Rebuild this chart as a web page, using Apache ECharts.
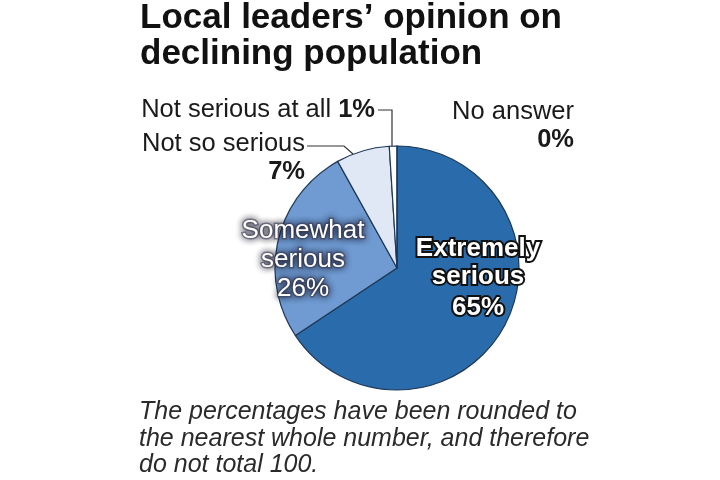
<!DOCTYPE html>
<html>
<head>
<meta charset="utf-8">
<script src="https://cdn.jsdelivr.net/npm/echarts@6/dist/echarts.min.js"></script>
<style>
  html, body { margin: 0; padding: 0; background: #fff; }
  #chart { width: 720px; height: 480px; }
</style>
</head>
<body>
<div id="chart"></div>
<script>
// data
const categories = ['Extremely serious', 'Somewhat serious', 'Not so serious', 'Not serious at all', 'No answer']
const values = [65, 26, 7, 1, 0]
const titleLines = ['Local leaders’ opinion on', 'declining population']
const noteLines = [
  'The percentages have been rounded to',
  'the nearest whole number, and therefore',
  'do not total 100.'
]

const FONT = "'Liberation Sans', Arial, sans-serif"
const sliceColors = ['#2a6cab', '#6f9bd2', '#dfe8f4', '#ffffff', '#ffffff']

// where each label sits (style only)
const labelPos = [
  { x: 478, y: 280, align: 'center', verticalAlign: 'middle' },
  { x: 303, y: 260, align: 'center', verticalAlign: 'middle' },
  { x: 305, y: 130, align: 'right', verticalAlign: 'top', line: [[307, 146], [344, 146], [353, 154]] },
  { x: 375, y: 110, align: 'right', verticalAlign: 'middle', line: [[378, 110], [392, 110], [392, 147]] },
  { x: 574, y: 98, align: 'right', verticalAlign: 'top' }
]

const outsideRich = {
  n: { fontFamily: FONT, fontSize: 25.5, color: '#1a1a1a', lineHeight: 28 },
  b: { fontFamily: FONT, fontSize: 25.5, fontWeight: 'bold', color: '#1a1a1a', lineHeight: 28 }
}

function labelFor(i) {
  const name = categories[i]
  const pct = values[i] + '%'
  if (i === 0) {
    const w = { fontFamily: FONT, fontSize: 26, fontWeight: 'bold', color: '#fff', textBorderColor: '#111', textBorderWidth: 4 }
    return {
      position: 'inside',
      formatter: name.split(' ').map(s => '{w|' + s + '}').join('\n') + '\n{p|' + pct + '}',
      rich: { w: { ...w, lineHeight: 28 }, p: { ...w, lineHeight: 34 } }
    }
  }
  if (i === 1) {
    const g = {
      fontFamily: FONT, fontSize: 26, color: '#fff', lineHeight: 29,
      textBorderColor: 'rgba(70,70,95,0.55)', textBorderWidth: 3,
      textShadowColor: 'rgba(20,20,40,0.9)', textShadowBlur: 7
    }
    return {
      position: 'inside',
      formatter: name.split(' ').map(s => '{g|' + s + '}').join('\n') + '\n{g|' + pct + '}',
      rich: { g: g }
    }
  }
  if (i === 3) {
    return { position: 'outside', formatter: '{n|' + name + ' }{b|' + pct + '}', rich: outsideRich }
  }
  return { position: 'outside', formatter: '{n|' + name + '}\n{b|' + pct + '}', rich: outsideRich }
}

const pieData = categories.map((name, i) => ({
  name: name,
  value: values[i],
  itemStyle: { color: sliceColors[i] },
  label: labelFor(i),
  labelLine: { show: !!labelPos[i].line }
}))

const chart = echarts.init(document.getElementById('chart'))
chart.setOption({
  animation: false,
  title: [
    {
      text: titleLines.join('\n'),
      left: 140,
      top: 0,
      padding: 0,
      textStyle: { fontFamily: FONT, fontSize: 35, fontWeight: 'bold', color: '#111', lineHeight: 36 }
    },
    {
      text: noteLines.join('\n'),
      left: 139,
      top: 399,
      padding: 0,
      textStyle: { fontFamily: FONT, fontSize: 25, fontStyle: 'italic', fontWeight: 'normal', color: '#2a2a2a', lineHeight: 26.5 }
    }
  ],
  series: [
    {
      type: 'pie',
      center: [397, 268],
      radius: 122,
      startAngle: 90,
      clockwise: true,
      avoidLabelOverlap: false,
      silent: true,
      itemStyle: { borderColor: '#1f3856', borderWidth: 1.2 },
      labelLine: { lineStyle: { color: '#333', width: 1.2 } },
      labelLayout: function (params) {
        const p = labelPos[params.dataIndex]
        const out = { x: p.x, y: p.y, align: p.align, verticalAlign: p.verticalAlign }
        if (p.line) out.labelLinePoints = p.line
        return out
      },
      data: pieData
    }
  ]
})
</script>
</body>
</html>
